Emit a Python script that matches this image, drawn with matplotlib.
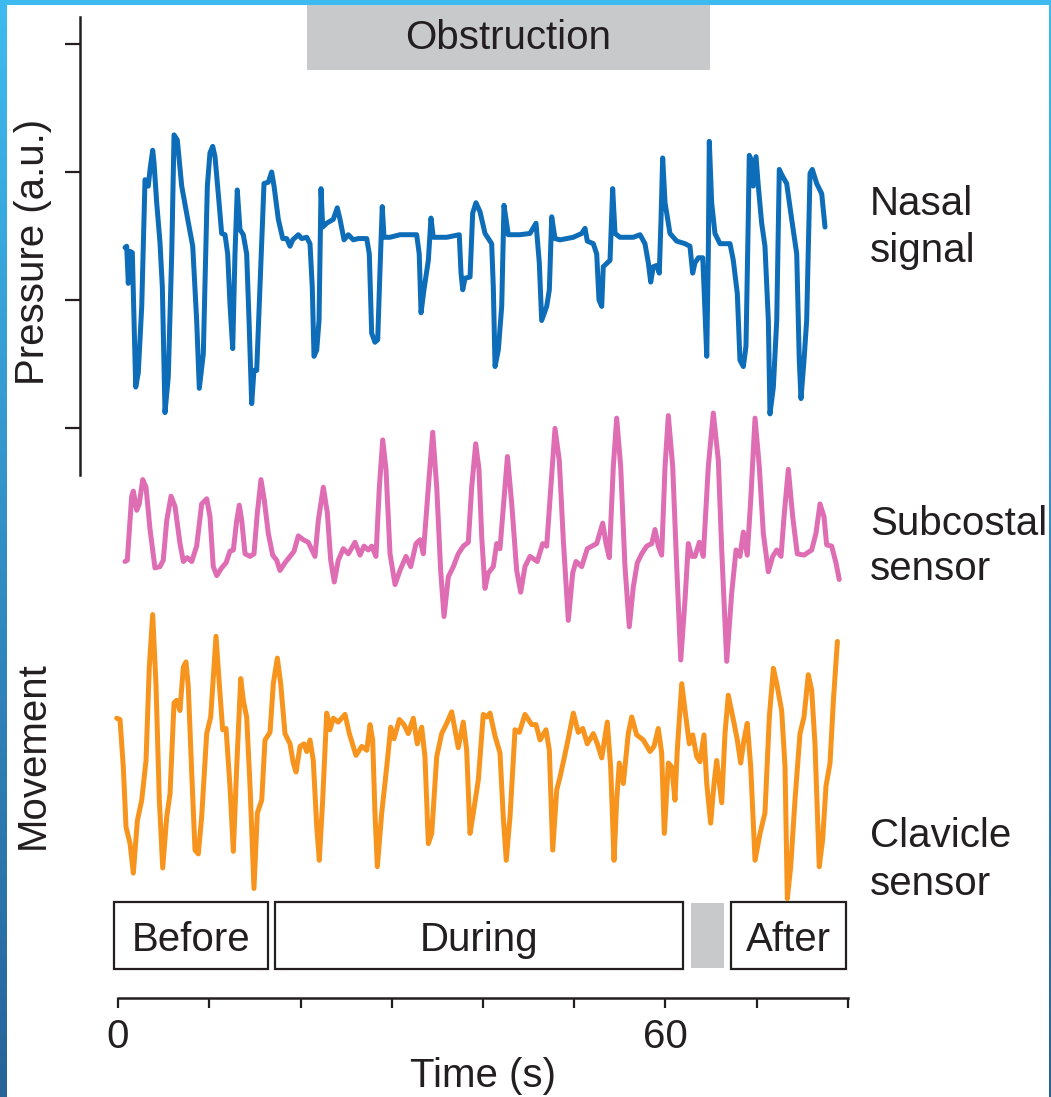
import numpy as np
import matplotlib
matplotlib.use("Agg")
from matplotlib import pyplot as plt
from matplotlib.patches import Rectangle

plt.rcParams["font.family"] = ["Liberation Sans", "DejaVu Sans"]

# nasal pressure signal (time in s, pressure in a.u.)
nasal_t = [0.77, 0.95, 1.13, 1.32, 1.57, 1.94, 2.22, 2.60, 2.96, 3.32, 3.51, 3.80, 3.95, 4.24,
           4.60, 4.86, 5.15, 5.51, 5.89, 6.14, 6.50, 6.98, 7.59, 8.19, 8.62, 8.91, 9.35, 9.79,
           10.08, 10.38, 10.63, 10.99, 11.36, 11.73, 12.02, 12.27, 12.57, 12.82, 13.07, 13.37,
           13.73, 14.10, 14.36, 14.65, 14.90, 15.20, 15.56, 16.00, 16.47, 16.84, 17.10, 17.57,
           18.05, 18.49, 18.85, 19.15, 19.76, 20.13, 20.68, 21.04, 21.29, 21.48, 21.78, 22.03,
           22.25, 22.43, 22.87, 23.59, 24.03, 24.33, 24.77, 25.24, 25.79, 26.33, 27.26, 27.54,
           27.80, 28.16, 28.46, 28.71, 28.96, 29.15, 29.81, 30.90, 32.73, 33.01, 33.21, 33.53,
           34.01, 34.30, 34.55, 36.02, 37.40, 37.59, 37.78, 38.03, 38.58, 38.87, 39.23, 39.67,
           40.22, 40.95, 41.13, 41.32, 41.68, 42.05, 42.30, 42.77, 44.05, 45.15, 45.81, 46.17,
           46.43, 46.98, 47.27, 47.53, 47.89, 48.44, 49.90, 50.82, 51.18, 51.43, 52.09, 52.46,
           52.71, 53.01, 53.18, 53.92, 54.21, 54.47, 55.01, 56.47, 57.21, 57.75, 58.12, 58.38,
           58.66, 59.04, 59.32, 59.51, 59.69, 59.95, 60.49, 61.23, 62.14, 62.68, 62.98, 63.23,
           63.60, 64.08, 64.22, 64.52, 64.69, 64.80, 65.06, 65.42, 65.97, 67.07, 67.43, 67.87,
           68.16, 68.53, 68.82, 69.07, 69.18, 69.44, 69.62, 69.92, 70.17, 70.54, 70.90, 71.27,
           71.45, 71.82, 72.19, 72.47, 72.73, 73.28, 73.83, 74.38, 74.66, 74.85, 75.18, 75.47,
           75.84, 76.09, 76.57, 77.12, 77.48]
nasal_v = [0.41, 0.42, 0.13, 0.38, 0.37, -0.68, -0.57, -0.05, 0.94, 0.89, 1.02, 1.17, 1.07, 0.76,
           0.45, 0.10, -0.88, -0.60, 0.37, 1.29, 1.25, 0.89, 0.65, 0.42, -0.16, -0.69, -0.42, 0.89,
           1.15, 1.20, 1.12, 0.83, 0.52, 0.51, 0.36, -0.03, -0.38, 0.36, 0.86, 0.55,
           0.51, 0.36, -0.16, -0.81, -0.55, -0.55, 0.10, 0.91, 0.92, 1.00, 0.89, 0.63,
           0.48, 0.48, 0.42, 0.47, 0.51, 0.48, 0.49, 0.44, 0.10, -0.44, -0.39, -0.16,
           0.87, 0.57, 0.60, 0.63, 0.72, 0.63, 0.47, 0.51, 0.47, 0.48, 0.48, 0.36,
           -0.26, -0.33, -0.31, 0.23, 0.73, 0.49, 0.49, 0.51, 0.51, 0.36, -0.10, 0.08,
           0.31, 0.64, 0.49, 0.49, 0.51, 0.21, 0.08, 0.17, 0.18, 0.68, 0.76, 0.69,
           0.52, 0.44, 0.10, -0.52, -0.39, -0.05, 0.74, 0.51, 0.51, 0.52, 0.60, 0.29,
           -0.16, -0.05, 0.08, 0.65, 0.48, 0.47, 0.49, 0.52, 0.56, 0.46, 0.44, 0.36,
           0.00, -0.05, 0.26, 0.31, 0.87, 0.52, 0.49, 0.49, 0.51, 0.44, 0.29, 0.14,
           0.26, 0.27, 0.21, 0.63, 1.11, 0.76, 0.52, 0.46, 0.44, 0.42, 0.21, 0.29,
           0.33, 0.33, 0.10, -0.44, 0.36, 1.24, 0.76, 0.52, 0.44, 0.44, 0.31, 0.05,
           -0.47, -0.52, -0.36, 0.63, 1.13, 1.09, 0.89, 1.12, 0.89, 0.60, 0.42, -0.16,
           -0.89, -0.68, -0.16, 1.02, 0.98, 0.91, 0.63, 0.36, -0.47, -0.77, -0.47, -0.16,
           0.99, 1.02, 0.91, 0.83, 0.57]

# subcostal movement sensor
subcostal_t = [0.77, 1.02, 1.50, 1.68, 2.05, 2.33, 2.71, 3.07, 3.51, 4.05, 4.60, 4.96, 5.34, 5.81,
               6.25, 6.79, 7.16, 7.59, 8.08, 8.62, 9.17, 9.72, 10.08, 10.44, 10.82, 11.36, 11.84,
               12.27, 12.64, 13.01, 13.29, 13.56, 13.92, 14.47, 14.90, 15.27, 15.67, 16.03, 16.47,
               16.95, 17.39, 17.75, 18.30, 18.85, 19.29, 19.76, 20.31, 20.85, 21.59, 21.95, 22.50,
               22.94, 23.31, 23.70, 24.14, 24.69, 25.24, 25.97, 26.52, 26.96, 27.43, 27.80, 28.27,
               28.64, 29.01, 29.37, 29.81, 30.36, 30.90, 31.56, 32.08, 32.66, 33.10, 33.46, 34.01,
               34.49, 34.93, 35.36, 35.73, 36.20, 36.75, 37.29, 37.84, 38.39, 38.76, 39.20, 39.56,
               39.86, 40.22, 40.58, 41.13, 41.50, 41.86, 42.33, 42.68, 43.15, 43.69, 44.13, 44.60,
               45.15, 45.95, 46.54, 46.98, 47.34, 47.89, 48.36, 48.80, 49.35, 49.83, 50.19, 50.82,
               51.43, 52.46, 53.12, 53.48, 53.84, 54.28, 54.65, 55.09, 55.56, 56.03, 56.47, 56.91,
               57.39, 57.94, 58.49, 58.85, 59.21, 59.58, 59.95, 60.31, 60.79, 61.23, 61.67, 62.14,
               62.50, 62.87, 63.23, 63.71, 64.14, 64.69, 65.24, 65.79, 66.16, 66.71, 67.25, 67.73,
               68.16, 68.53, 68.96, 69.34, 69.81, 70.28, 70.72, 71.27, 71.75, 72.19, 72.66, 72.99,
               73.46, 73.94, 74.44, 75.18, 76.02, 76.49, 76.93, 77.37, 77.66, 78.21, 78.68, 79.04]
subcostal_v = [-0.09, -0.08, 0.42, 0.46, 0.31, 0.36, 0.55, 0.49, 0.16, -0.14, -0.13, -0.08, 0.23,
               0.42, 0.34, 0.05, -0.09, -0.06, -0.09, 0.03, 0.36, 0.40, 0.26, -0.13, -0.20, -0.14,
               -0.10, -0.01, 0.00, 0.23, 0.35, 0.23, -0.03, -0.05, -0.03, 0.29, 0.55, 0.39, 0.13,
               -0.04, -0.08, -0.16, -0.10, -0.05, -0.01, 0.11, 0.08, 0.06, -0.05, 0.23, 0.49,
               0.29, -0.08, -0.25, -0.08, 0.01, -0.03, 0.06, -0.04, 0.03, 0.00, 0.03, -0.05,
               0.49, 0.86, 0.63, -0.03, -0.27, -0.16, -0.05, -0.13, 0.05, 0.08, -0.03, 0.49,
               0.92, 0.49, -0.16, -0.52, -0.21, -0.13, -0.03, 0.03, 0.06, 0.49, 0.83, 0.63,
               0.10, -0.30, -0.18, -0.13, 0.05, 0.01, 0.42, 0.73, 0.36, -0.16, -0.33, -0.13,
               -0.05, -0.09, 0.05, 0.03, 0.39, 0.95, 0.70, 0.08, -0.55, -0.18, -0.09, -0.13,
               0.01, 0.05, 0.21, 0.05, -0.06, 0.65, 1.03, 0.65, -0.13, -0.60, -0.29, -0.10,
               -0.03, 0.03, 0.05, 0.16, 0.03, -0.04, 0.65, 1.05, 0.65, -0.13, -0.86, -0.39,
               0.05, -0.05, -0.05, 0.06, -0.05, 0.65, 1.07, 0.70, 0.00, -0.87, -0.34, 0.00,
               -0.05, 0.14, -0.04, 0.39, 1.03, 0.65, 0.13, -0.17, -0.05, 0.00, -0.05, 0.26,
               0.63, 0.26, -0.03, -0.04, 0.00, 0.13, 0.36, 0.26, 0.04, 0.03, -0.10, -0.23]

# clavicle movement sensor
clavicle_t = [-0.14, 0.22, 0.58, 0.88, 1.32, 1.68, 2.12, 2.60, 3.07, 3.43, 3.80, 4.16, 4.53, 4.90,
              5.34, 5.70, 6.14, 6.43, 6.79, 7.16, 7.45, 7.70, 8.08, 8.44, 8.80, 9.17, 9.72, 10.16,
              10.74, 11.10, 11.47, 11.84, 12.27, 12.64, 13.01, 13.45, 13.73, 14.10, 14.47, 14.90,
              15.27, 15.75, 16.11, 16.66, 17.02, 17.46, 17.83, 18.30, 18.85, 19.21, 19.51, 19.95,
              20.38, 20.68, 21.04, 21.40, 21.78, 22.06, 22.43, 22.87, 23.23, 23.59, 24.14, 24.88,
              25.35, 26.08, 26.71, 27.26, 27.62, 27.91, 28.16, 28.42, 28.90, 29.45, 29.89, 30.25,
              30.83, 31.34, 31.81, 32.36, 32.80, 33.28, 33.64, 34.01, 34.38, 34.93, 35.47, 36.02,
              36.57, 36.93, 37.29, 37.84, 38.21, 38.58, 38.94, 39.49, 40.03, 40.41, 40.77, 41.32,
              41.86, 42.22, 42.55, 42.96, 43.51, 43.98, 44.60, 45.34, 45.81, 46.25, 46.90, 47.27,
              47.64, 48.08, 48.44, 49.17, 49.90, 50.44, 50.93, 51.43, 52.09, 52.53, 53.01, 53.62,
              53.99, 54.36, 54.65, 54.94, 55.38, 55.92, 56.30, 56.84, 57.57, 58.30, 58.74, 59.21,
              59.58, 59.87, 60.31, 60.68, 61.04, 61.29, 61.78, 62.14, 62.61, 62.98, 63.42, 63.78,
              64.22, 64.52, 64.95, 65.32, 65.61, 66.16, 66.52, 66.88, 67.43, 67.87, 68.24, 68.60,
              68.96, 69.34, 69.81, 70.36, 70.90, 71.38, 71.82, 72.19, 72.73, 73.10, 73.35, 73.72,
              74.19, 74.74, 75.18, 75.65, 76.02, 76.38, 76.85, 77.22, 77.59, 78.03, 78.40, 78.84]
clavicle_v = [0.17, 0.16, -0.21, -0.68, -0.81, -1.04, -0.63, -0.47, -0.16, 0.57, 0.98, 0.44, -0.47,
              -1.00, -0.60, -0.42, 0.29, 0.31, 0.23, 0.57, 0.61, 0.42, -0.26, -0.86, -0.89, -0.60,
              0.05, 0.18, 0.81, 0.44, 0.08, 0.09, -0.36, -0.87, -0.21, 0.48, 0.31, 0.18, -0.36,
              -1.16, -0.57, -0.47, 0.00, 0.06, 0.44, 0.64, 0.44, 0.05, -0.03, -0.18, -0.25, -0.05,
              -0.03, -0.09, 0.00, -0.16, -0.68, -0.94, -0.47, 0.21, 0.08, 0.17, 0.14, 0.20,
              0.05, -0.12, -0.05, -0.08, 0.12, 0.00, -0.57, -0.99, -0.57, -0.21, 0.10, 0.01,
              0.16, 0.12, 0.05, 0.17, -0.03, 0.10, -0.13, -0.81, -0.73, -0.13, 0.05, 0.13,
              0.22, 0.08, -0.06, 0.14, -0.08, -0.73, -0.57, -0.31, 0.20, 0.18, 0.21, 0.03,
              -0.10, -0.60, -0.94, -0.60, 0.08, 0.06, 0.20, 0.12, 0.12, 0.00, 0.08, -0.08,
              -0.86, -0.39, -0.29, -0.05, 0.21, 0.06, 0.09, -0.03, 0.05, -0.03, -0.14, 0.14,
              -0.21, -0.94, -0.47, -0.18, -0.34, 0.05, 0.18, 0.04, 0.00, -0.09, -0.05, 0.09,
              -0.10, -0.73, -0.18, -0.21, -0.47, -0.08, 0.44, 0.23, -0.03, 0.04, -0.13, -0.17,
              0.04, -0.34, -0.65, -0.34, -0.16, -0.49, 0.05, 0.35, 0.16, 0.00, -0.18, 0.00,
              0.13, -0.21, -0.94, -0.73, -0.57, 0.18, 0.56, 0.44, 0.23, -0.21, -1.24, -0.99,
              -0.47, 0.05, 0.18, 0.51, 0.39, -0.03, -0.99, -0.78, -0.36, -0.18, 0.31, 0.77]

# phases of the recording (start, end in s)
obstruction = (20.7, 64.9)
phases = [("Before", -0.45, 16.45), ("During", 17.2, 61.9), ("", 62.8, 66.4), ("After", 67.2, 79.8)]

# vertical offsets of the two movement traces
subcostal_offset = -1.953
clavicle_offset = -3.4375

blue = "#0d6db8"
pink = "#de6db3"
orange = "#f7941d"
grey = "#c8c9cb"
ink = "#231f20"
fs = 29

fig = plt.figure(figsize=(10.51, 10.97), dpi=100)
ax = fig.add_axes([0, 0, 1, 1])
ax.set_xlim(-12.932, 102.247)
ax.set_ylim(-6.2266, 2.34375)
ax.patch.set_alpha(0)

# traces
lw = 3.6
ax.plot(nasal_t, nasal_v, color=blue, lw=lw, solid_joinstyle="round", solid_capstyle="round")
ax.plot(subcostal_t, np.array(subcostal_v) + subcostal_offset, color=pink, lw=lw,
        solid_joinstyle="round", solid_capstyle="round")
ax.plot(clavicle_t, np.array(clavicle_v) + clavicle_offset, color=orange, lw=lw,
        solid_joinstyle="round", solid_capstyle="round")

# axes: pressure on the left, time at the bottom
for s in ["top", "right"]:
    ax.spines[s].set_visible(False)
ax.spines["left"].set_position(("data", -4.16))
ax.spines["left"].set_bounds(-1.37, 2.21)
ax.spines["bottom"].set_position(("data", -5.453))
ax.spines["bottom"].set_bounds(0, 80)
for s in ["left", "bottom"]:
    ax.spines[s].set_linewidth(1.8)
    ax.spines[s].set_color(ink)
ax.set_yticks([-1, 0, 1, 2])
ax.set_yticklabels([])
ax.tick_params(axis="y", direction="out", length=10.5, width=1.6, color=ink)
ax.set_xticks(np.arange(0, 81, 10))
ax.set_xticklabels(["0", "", "", "", "", "", "60", "", ""])
ax.tick_params(axis="x", direction="out", length=7.5, width=1.6, color=ink,
               labelsize=fs, labelcolor=ink, pad=7)

ax.text(-9.3, 0.375, "Pressure (a.u.)", rotation=90, ha="center", va="center",
        fontsize=fs, color=ink)
ax.text(-9.3, -3.555, "Movement", rotation=90, ha="center", va="center",
        fontsize=fs, color=ink)
ax.text(40.0, -6.148, "Time (s)", ha="center", va="baseline", fontsize=fs, color=ink)

# obstruction bar
ax.add_patch(Rectangle((obstruction[0], 1.797), obstruction[1] - obstruction[0], 0.508,
                       facecolor=grey, edgecolor="none"))
ax.text(sum(obstruction) / 2, 2.045, "Obstruction", ha="center", va="center",
        fontsize=fs, color=ink)

# phase boxes
for name, t0, t1 in phases:
    if name:
        ax.add_patch(Rectangle((t0, -5.227), t1 - t0, 0.524, facecolor="white",
                               edgecolor=ink, lw=1.6))
        ax.text((t0 + t1) / 2, -5.086, name, ha="center", va="baseline",
                fontsize=fs, color=ink)
    else:
        ax.add_patch(Rectangle((t0, -5.22), t1 - t0, 0.51, facecolor=grey, edgecolor="none"))

# trace names
labels = [("Nasal", 0.664), ("signal", 0.297), ("Subcostal", -1.836), ("sensor", -2.1875),
          ("Clavicle", -4.273), ("sensor", -4.648)]
for txt, yb in labels:
    ax.text(82.41, yb, txt, ha="left", va="baseline", fontsize=fs, color=ink)

# slide frame
grad = np.linspace(0, 1, 256)[:, None]
top_c = np.array([0.24, 0.73, 0.94])
bot_c = np.array([0.15, 0.39, 0.60])
img = top_c[None, None, :] * (1 - grad[:, :, None]) + bot_c[None, None, :] * grad[:, :, None]
for x0, w in [(0, 7), (1049, 2)]:
    fax = fig.add_axes([x0 / 1051, 0, w / 1051, 1])
    fax.imshow(img, aspect="auto", extent=(0, 1, 0, 1))
    fax.axis("off")
fig.patches.append(Rectangle((0, 1 - 5 / 1097), 1, 5 / 1097, transform=fig.transFigure,
                             facecolor="#3dbbf1", edgecolor="none", zorder=5))

fig.savefig("out.png", dpi=100)
